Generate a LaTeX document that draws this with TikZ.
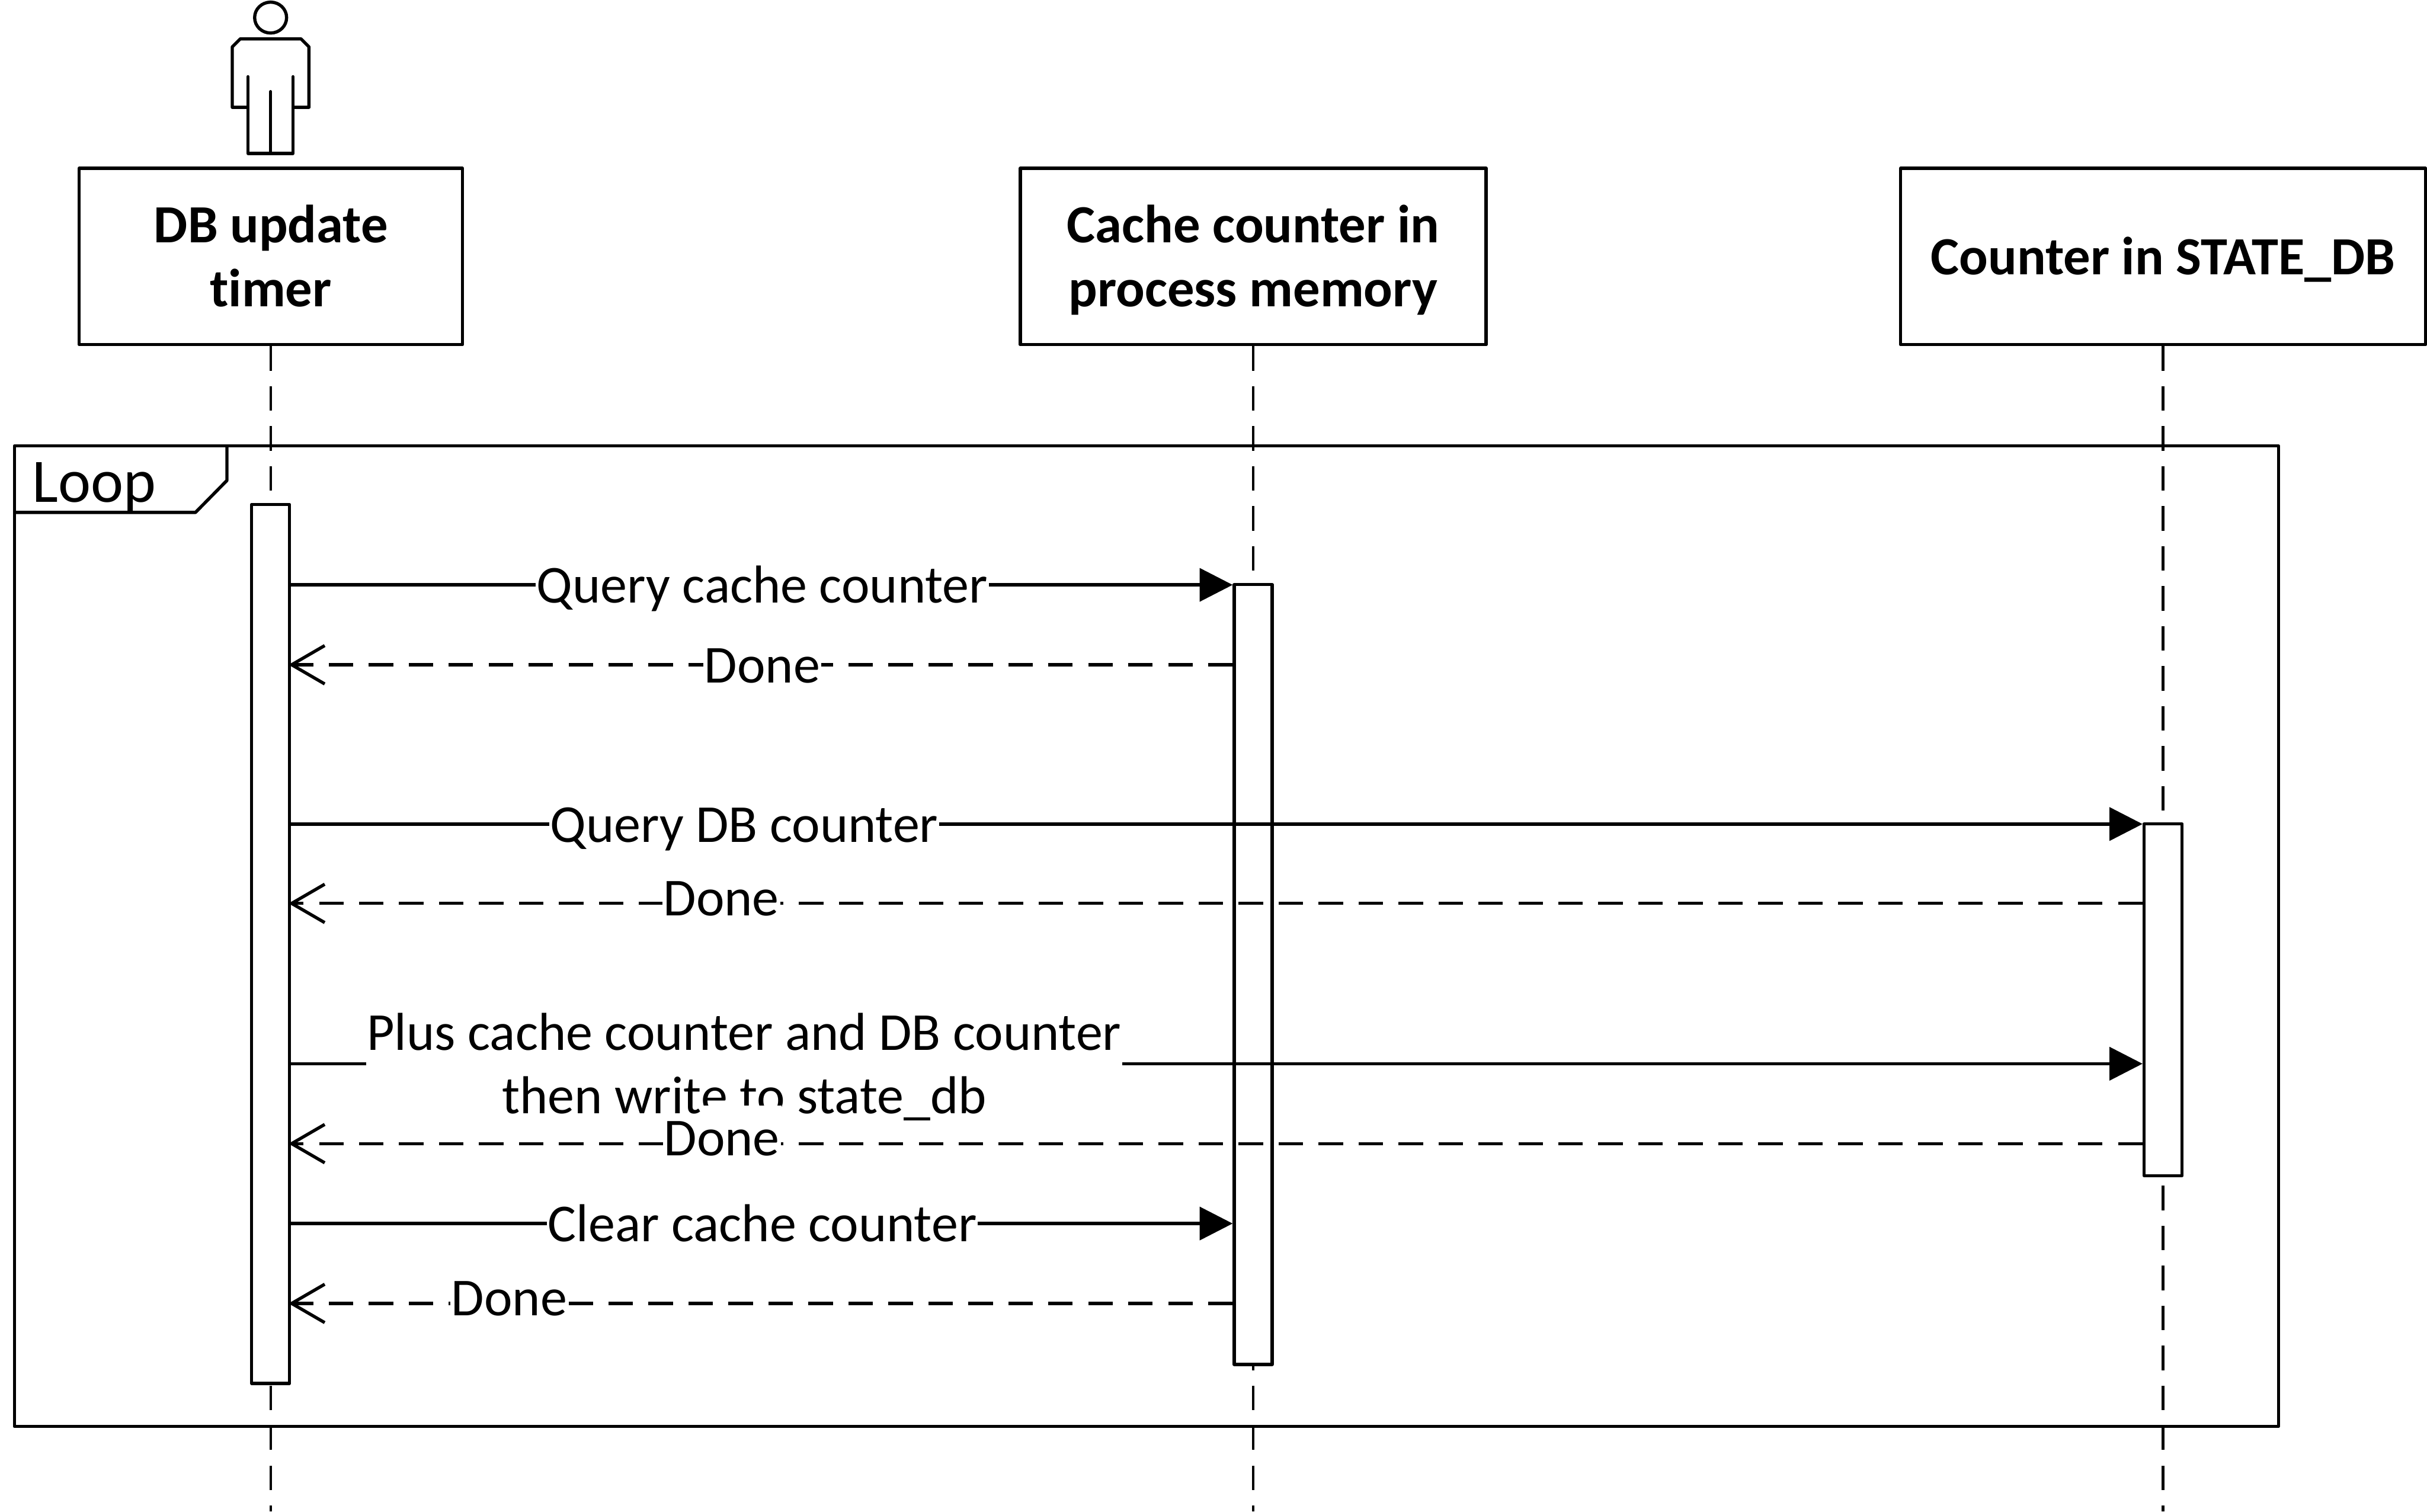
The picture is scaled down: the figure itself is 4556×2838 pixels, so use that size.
\documentclass[tikz,border=0pt]{standalone}
\usepackage{fontspec}
\setmainfont{Carlito}[Ligatures=NoCommon]
\usetikzlibrary{arrows.meta}
\newcommand{\ls}{\rule[-7.3pt]{0pt}{34pt}}
\tikzset{
  x=0.01cm,y=-0.01cm,
  ln/.style={line width=0.06cm,line join=round,line cap=butt},
  headbox/.style={ln,draw,fill=white,inner sep=0pt,minimum width=#1,minimum height=3.31cm,align=center,font=\fontsize{28.7}{34}\selectfont\bfseries},
  bar/.style={ln,draw,fill=white,inner sep=0pt,minimum width=0.71cm,minimum height=#1},
  lifeline/.style={line width=0.05cm,dash pattern=on 0.46cm off 0.29cm},
  call/.style={ln,-{Triangle[length=0.62cm,width=0.62cm]}},
  reply/.style={ln,dash pattern=on 0.46cm off 0.29cm,shorten >=-0.05cm,-{Straight Barb[length=0.62cm,width=0.72cm,line width=0.06cm]}},
  lbl/.style={fill=white,inner sep=0pt,inner xsep=0.6pt,align=center,font=\fontsize{28.5}{34}\selectfont}
}
\begin{document}
\begin{tikzpicture}
\useasboundingbox (0,0) rectangle (4556,2838);
% frame
\draw[ln] (27,837) rectangle (4277,2678);
\draw[ln] (27,962) -- (367,962) -- (426,902) -- (426,837);
\node[anchor=base west,inner sep=0pt,font=\fontsize{33}{36}\selectfont] (looplabel) at (60,943) {Loop};
% heads
\node[headbox=7.19cm] (hA) at (508.5,481.5) {\ls DB update\\\ls timer};
\node[headbox=8.74cm] (hB) at (2352.5,481.5) {\ls Cache counter in\\\ls process memory};
\node[headbox=9.85cm] (hC) at (4060.5,481.5) {\ls Counter in STATE\_DB};
% actor
\draw[ln] (508,33) ellipse (30 and 29);
\draw[ln] (465.5,201.5) -- (436,201.5) -- (436,88) -- (451,73) -- (565,73) -- (580,88) -- (580,201.5) -- (550,201.5);
\draw[ln,line cap=round] (465.5,144) -- (465.5,288) -- (550,288) -- (550,144);
\draw[ln,line cap=round] (508,172) -- (508,288);
% lifeline ends
\coordinate (eA) at (508.5,2838);
\coordinate (eB) at (2352.5,2838);
\coordinate (eC) at (4060.5,2838);
\draw[lifeline] (hA.south) -- (eA);
\draw[lifeline] (hB.south) -- (eB);
\draw[lifeline] (hC.south) -- (eC);
% activation bars
\node[bar=16.49cm] (aA) at (508,1772) {};
\node[bar=14.63cm] (aB) at (2352.5,1829.5) {};
\node[bar=6.60cm] (aC) at (4060.5,1877) {};
% messages
\draw[call] (aA.east |- 0,1098) -- (aB.west |- 0,1098);
\draw[reply] (aB.west |- 0,1248) -- (aA.east |- 0,1248);
\draw[call] (aA.east |- 0,1547) -- (aC.west |- 0,1547);
\draw[reply] (aC.west |- 0,1696) -- (aA.east |- 0,1696);
\draw[call] (aA.east |- 0,1997) -- (aC.west |- 0,1997);
\draw[reply] (aC.west |- 0,2147) -- (aA.east |- 0,2147);
\draw[call] (aA.east |- 0,2297) -- (aB.west |- 0,2297);
\draw[reply] (aB.west |- 0,2447) -- (aA.east |- 0,2447);
% labels
\node[lbl] (l1) at (1431,1098) {\ls Query cache counter};
\node[lbl] (l2) at (1431,1248) {\ls Done};
\node[lbl] (l3) at (1397,1547) {\ls Query DB counter};
\node[lbl] (l4) at (1354,1685) {\ls Done};
\node[lbl] (l5) at (1397,1997) {\ls Plus cache counter and DB counter\\\ls then write to state\_db};
\fill[white] (1318,2075) rectangle (1467,2120);
\node[lbl,anchor=base] (l6) at (1355,2170) {Done};
\node[lbl] (l7) at (1431,2297) {\ls Clear cache counter};
\node[lbl] (l8) at (956,2435.5) {\ls Done};
\end{tikzpicture}
\end{document}
